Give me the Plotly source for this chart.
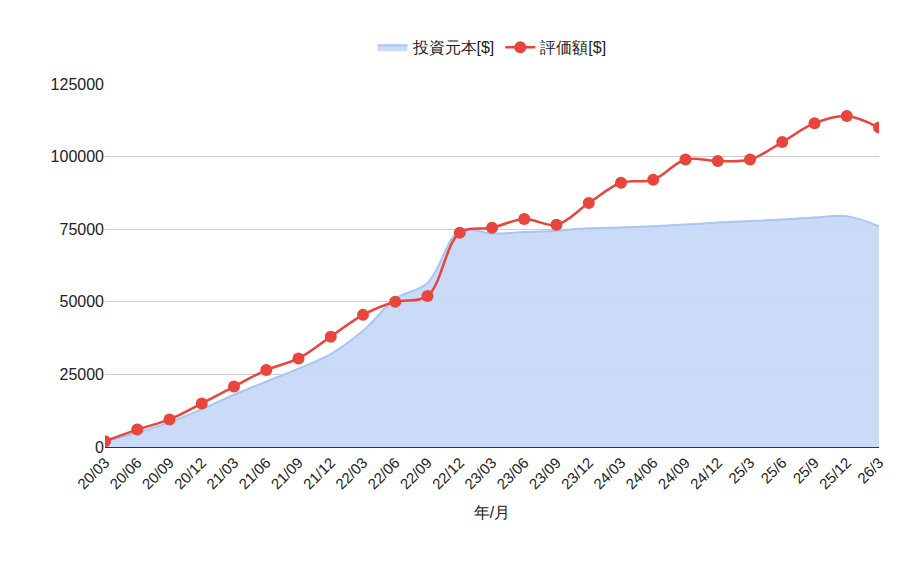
import plotly.graph_objects as go

months = ["20/03","20/06","20/09","20/12","21/03","21/06","21/09","21/12","22/03","22/06","22/09","22/12",
          "23/03","23/06","23/09","23/12","24/03","24/06","24/09","24/12","25/3","25/6","25/9","25/12","26/3"]
principal = [2000,5000,8500,13000,18000,22500,27000,32000,40000,51000,56500,74500,
             73500,74000,74500,75300,75600,76000,76600,77300,77800,78300,79000,79500,76000]
valuation = [2000,6000,9500,15000,20800,26500,30500,38000,45500,50000,52000,73800,
             75500,78500,76500,84000,91000,92000,99000,98500,99000,105000,111500,114000,110000]

fig = go.Figure()
fig.add_trace(go.Scatter(x=months, y=principal, name="投資元本[$]", mode="lines",
                         line=dict(color="#a9c4f5", width=2, shape="spline"),
                         fill="tozeroy", fillcolor="rgba(198,217,247,0.95)"))
fig.add_trace(go.Scatter(x=months, y=valuation, name="評価額[$]", mode="lines+markers",
                         line=dict(color="#e8453c", width=2.5, shape="spline"),
                         marker=dict(size=12, color="#e8453c")))
fig.update_layout(
    width=902, height=561, paper_bgcolor="white", plot_bgcolor="white",
    margin=dict(l=97, r=31, t=76, b=122, autoexpand=False),
    font=dict(family="Arial, Liberation Sans, sans-serif", size=16, color="#222"),
    legend=dict(orientation="h", x=0.5, xanchor="center", yref="container", y=0.93, yanchor="middle",
                font=dict(size=16)),
    xaxis=dict(type="category", tickangle=-45, showgrid=False, showline=True,
               linecolor="#333", range=[0, 24], title=dict(text="年/月", font=dict(size=16)),
               tickfont=dict(size=15)),
    yaxis=dict(range=[0, 125000], tickvals=[0,25000,50000,75000,100000,125000],
               tickformat="d", gridcolor="#cccccc", zeroline=False, tickfont=dict(size=16)),
)
fig.write_html("out.html")
